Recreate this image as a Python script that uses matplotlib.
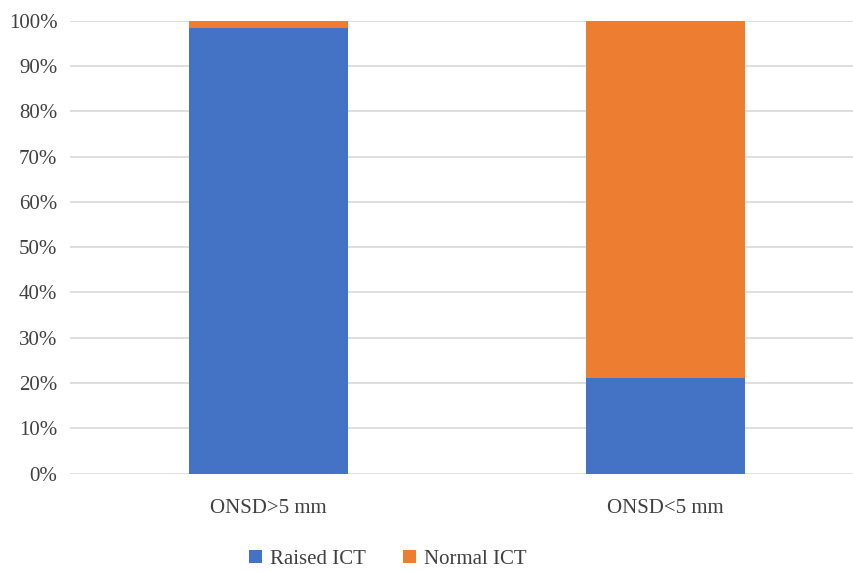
import matplotlib.pyplot as plt
from matplotlib.ticker import PercentFormatter

# data
categories = ['ONSD>5 mm', 'ONSD<5 mm']
raised_ict = [98.4, 21.0]
normal_ict = [1.6, 79.0]
yticks = [0, 10, 20, 30, 40, 50, 60, 70, 80, 90, 100]

plt.rcParams['font.family'] = ['Liberation Serif', 'DejaVu Serif']

fig = plt.figure(figsize=(8.54, 5.72), dpi=100)
ax = fig.add_axes([70 / 854, 0.1722, (864 - 70) / 854, 0.7916])

x = range(len(categories))
ax.bar(x, raised_ict, width=0.4, color='#4472C4', label='Raised ICT', zorder=3)
ax.bar(x, normal_ict, width=0.4, bottom=raised_ict, color='#ED7D31',
       label='Normal ICT', zorder=3)

ax.set_xlim(-0.5, 1.5)
ax.set_ylim(0, 100)
ax.set_yticks(yticks)
ax.yaxis.set_major_formatter(PercentFormatter(decimals=0))
ax.set_xticks(list(x))
ax.set_xticklabels(categories)
ax.tick_params(axis='both', length=0, labelsize=15, colors='#404040')
ax.tick_params(axis='x', pad=18)
ax.tick_params(axis='y', pad=9)
ax.grid(axis='y', color='#D9D9D9', linewidth=1.2, zorder=0)
for s in ax.spines.values():
    s.set_visible(False)

fig.legend(loc='center', bbox_to_anchor=(388 / 854, 1 - 559 / 572), ncol=2,
           frameon=False, fontsize=15, handlelength=0.6, handleheight=0.6,
           handletextpad=0.4, columnspacing=1.8, labelcolor='#404040')

fig.savefig('out.png', dpi=100)
